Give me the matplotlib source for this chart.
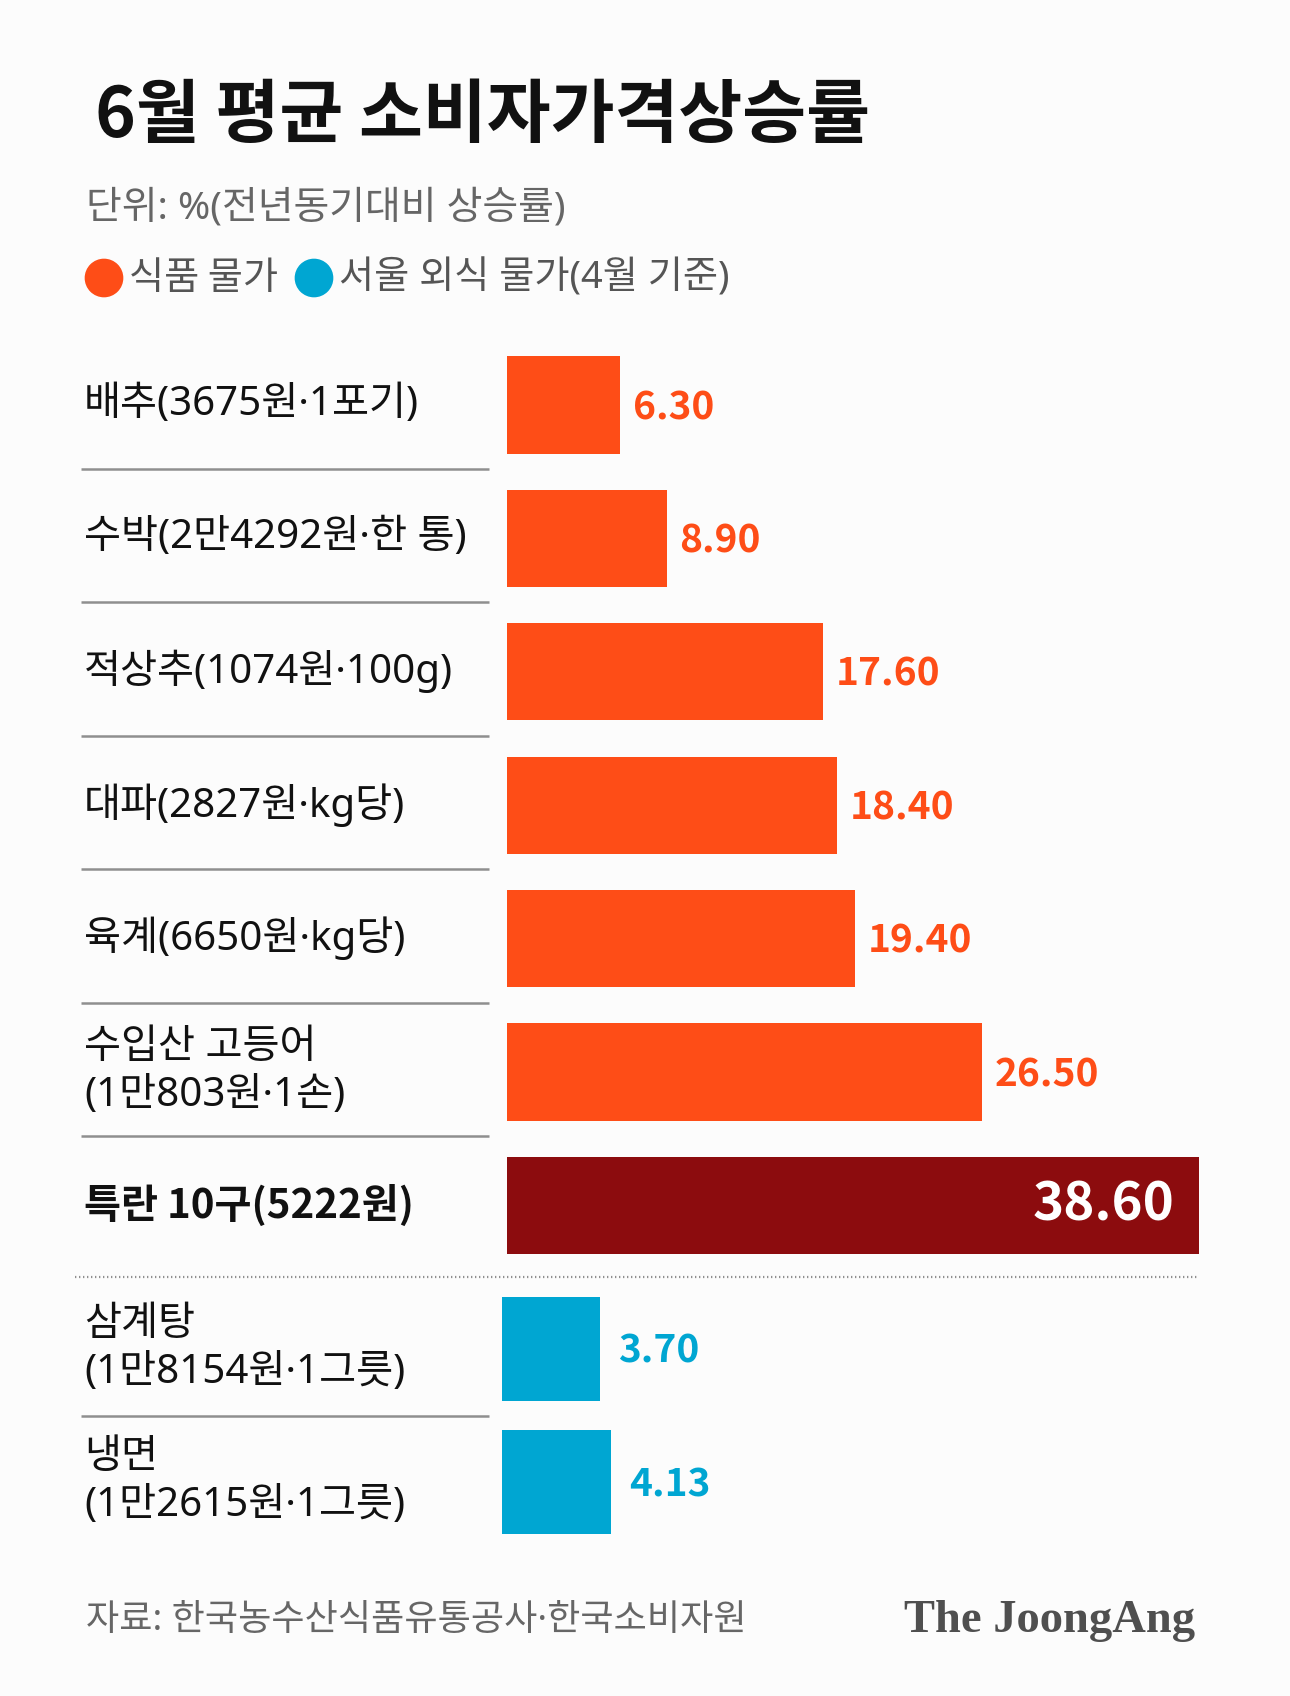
import numpy as np
import matplotlib.pyplot as plt

plt.rcParams['font.family'] = ['Noto Sans CJK KR', 'DejaVu Sans']
LABEL_FONT = ['Noto Sans', 'Noto Sans CJK KR']

# data
food_labels = ['배추(3675원·1포기)', '수박(2만4292원·한 통)', '적상추(1074원·100g)',
               '대파(2827원·kg당)', '육계(6650원·kg당)', '수입산 고등어\n(1만803원·1손)',
               '특란 10구(5222원)']
food_values = [6.30, 8.90, 17.60, 18.40, 19.40, 26.50, 38.60]
dining_labels = ['삼계탕\n(1만8154원·1그릇)', '냉면\n(1만2615원·1그릇)']
dining_values = [3.70, 4.13]
highlight = '특란 10구(5222원)'

ORANGE = '#fe4d17'
DARK = '#8c0c0e'
BLUE = '#00a6d2'
GRAY = '#666666'
BG = '#fcfcfc'

# layout (pixels)
W, H = 1290, 1696
BAR_X0 = 507
PXU = 17.93          # px per percent point, food bars
BAR_X0_DINING = 502
PXU_DINING = 26.4    # the dining bars use their own scale in the original
ROW0 = 405
ROW_PX = 133.4


def dx(px):
    return (px - BAR_X0) / PXU


fig = plt.figure(figsize=(W / 100, H / 100), dpi=100, facecolor=BG)
ax = fig.add_axes([0, 0, 1, 1])
ax.set_facecolor(BG)
ax.set_xlim(dx(0), dx(W))
ylim = ((H - ROW0) / ROW_PX, -ROW0 / ROW_PX)
ax.set_ylim(ylim)
ax.axis('off')

ax2 = fig.add_axes([0, 0, 1, 1])
ax2.patch.set_alpha(0)
ax2.set_xlim(-BAR_X0_DINING / PXU_DINING, (W - BAR_X0_DINING) / PXU_DINING)
ax2.set_ylim(ylim)
ax2.axis('off')

food_y = np.arange(len(food_values))
dining_y = len(food_values) + 0.075 + np.arange(len(dining_values))

food_colors = [DARK if l == highlight else ORANGE for l in food_labels]
ax.barh(food_y, food_values, height=0.73, color=food_colors)
ax2.barh(dining_y, dining_values, height=0.78, color=BLUE)

# category labels and values
for y, lab, v in zip(food_y, food_labels, food_values):
    bold = lab == highlight
    ax.text(dx(84), y, lab, ha='left', va='center', fontsize=29,
            fontweight='bold' if bold else 'medium', color='#111111',
            linespacing=1.25,
            family='Noto Sans CJK KR' if bold else LABEL_FONT)
    if bold:
        ax.text(v - 25 / PXU, y, f'{v:.2f}', ha='right', va='center',
                fontsize=38, fontweight='bold', color='white')
    else:
        ax.text(v + 13 / PXU, y + 0.02, f'{v:.2f}', ha='left', va='center',
                fontsize=28, fontweight='bold', color=ORANGE)

for y, lab, v in zip(dining_y, dining_labels, dining_values):
    ax.text(dx(84), y, lab, ha='left', va='center', fontsize=29,
            fontweight='medium', color='#111111', linespacing=1.25,
            family=LABEL_FONT)
    ax2.text(v + 18 / PXU_DINING, y + 0.02, f'{v:.2f}', ha='left',
             va='center', fontsize=28, fontweight='bold', color=BLUE)

# separators
ax.hlines(food_y[:-1] + 0.48, dx(81), dx(489), color='#8f8f8f', lw=1.8)
ax.hlines((food_y[-1] + dining_y[0]) / 2, dx(75), dx(1197), color='#8f8f8f',
          lw=1.6, linestyles=(0, (0.6, 1.2)))
ax.hlines((dining_y[:-1] + dining_y[1:]) / 2, dx(81), dx(489),
          color='#8f8f8f', lw=1.8)

# title / subtitle / legend
fig.text(95 / W, 1 - 117 / H, '6월 평균 소비자가격상승률', fontsize=50,
         fontweight='bold', color='#111111', ha='left', va='center')
fig.text(86 / W, 1 - 208 / H, '단위: %(전년동기대비 상승률)', fontsize=28,
         color=GRAY, ha='left', va='center', family=LABEL_FONT)

ax.scatter([104 / W, 314 / W], [1 - 278 / H, 1 - 278 / H], s=720,
           color=[ORANGE, BLUE], transform=fig.transFigure, clip_on=False)
fig.text(129 / W, 1 - 278 / H, '식품 물가', fontsize=27.5, color='#555555',
         ha='left', va='center')
fig.text(339 / W, 1 - 278 / H, '서울 외식 물가(4월 기준)', fontsize=27.5,
         color='#555555', ha='left', va='center', family=LABEL_FONT)

# footer
fig.text(86 / W, 1 - 1621 / H, '자료: 한국농수산식품유통공사·한국소비자원',
         fontsize=26, color=GRAY, ha='left', va='center', family=LABEL_FONT)
fig.text(1195 / W, 1 - 1621 / H, 'The JoongAng', fontsize=33.5,
         fontweight='bold', family='Liberation Serif', color='#4f4f4f',
         ha='right', va='center')

fig.savefig('out.png', dpi=100, facecolor=BG)
